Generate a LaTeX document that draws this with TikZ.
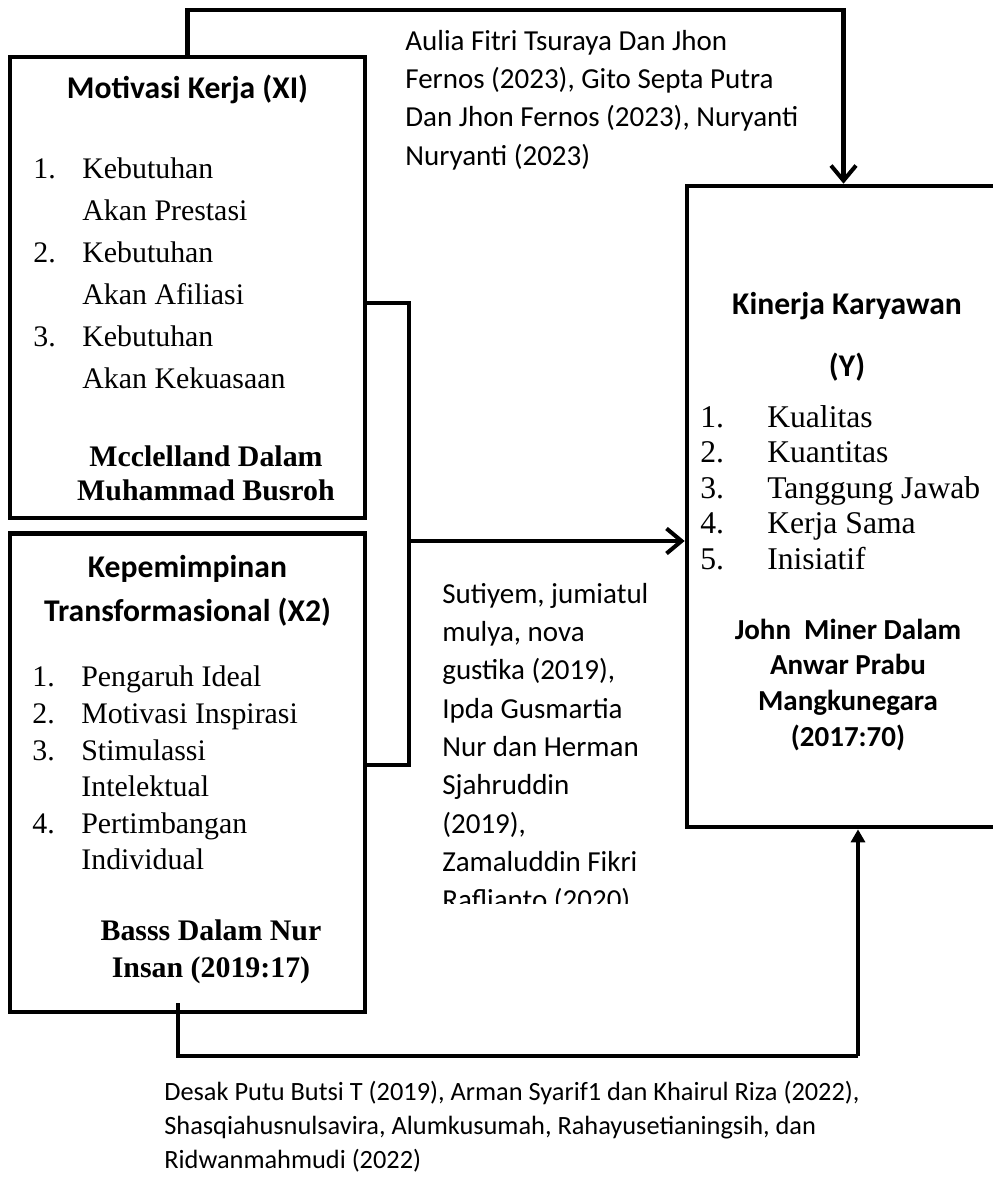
\documentclass[tikz,border=0pt]{standalone}
\usepackage{fontspec}
\setmainfont{Liberation Serif}
\setsansfont{Carlito}
\usetikzlibrary{arrows.meta,positioning,calc}
\tikzset{
  varbox/.style={draw=black, line width=2.7pt, inner sep=0pt, minimum width=7.1cm},
  titletext/.style={font=\sffamily\bfseries, inner sep=0pt},
  itemtext/.style={anchor=north west, inner sep=0pt},
  srctext/.style={anchor=north, inner sep=0pt},
  citetext/.style={font=\fontsize{16.5}{21.8}\selectfont\sffamily, anchor=north west, inner sep=0pt},
  link/.style={line width=2.3pt},
  linkArc/.style={link, -{Straight Barb[length=3mm, width=5mm]}},
  upArc/.style={line width=1.8pt, -{Triangle[length=2.6mm, width=2.8mm]}},
}

\begin{document}
\begin{tikzpicture}[x=0.02cm, y=-0.02cm]
    \useasboundingbox (0,0) rectangle (993,1179);
    \node[varbox, minimum height=9.22cm] (x1) at (187.5,287.5) {};
    \node[varbox, minimum height=9.58cm, below=2.1mm of x1] (x2) {};
    \node[varbox, minimum width=6.26cm, minimum height=12.82cm] (y) at (843.5,506.5) {};

    \node[titletext, font=\fontsize{18}{25}\selectfont\sffamily\bfseries, anchor=base] (x1title) at (187.5,99) {Motivasi Kerja (XI)};
    \node[itemtext, font=\fontsize{17}{23.9}\selectfont] (x1items) at (33,148.6) {\begin{tabular}{@{}p{27.9pt}@{}l@{}}
      1. & Kebutuhan\\ & Akan Prestasi\\
      2. & Kebutuhan\\ & Akan Afiliasi\\
      3. & Kebutuhan\\ & Akan Kekuasaan
    \end{tabular}};
    \node[srctext, font=\fontsize{17}{18.8}\selectfont\bfseries] (x1src) at (206,443.5) {\begin{tabular}{@{}c@{}}
      Mcclelland Dalam\\ Muhammad Busroh
    \end{tabular}};

    \node[titletext, font=\fontsize{18}{25}\selectfont\sffamily\bfseries, anchor=north] (x2title) at (187.5,546) {\begin{tabular}{@{}c@{}}
      Kepemimpinan\\ Transformasional (X2)
    \end{tabular}};
    \node[itemtext, font=\fontsize{17}{20.8}\selectfont] (x2items) at (32,661) {\begin{tabular}{@{}p{27.9pt}@{}l@{}}
      1. & Pengaruh Ideal\\
      2. & Motivasi Inspirasi\\
      3. & Stimulassi\\ & Intelektual\\
      4. & Pertimbangan\\ & Individual
    \end{tabular}};
    \node[srctext, font=\fontsize{17}{21.05}\selectfont\bfseries] (x2src) at (211,914.1) {\begin{tabular}{@{}c@{}}
      Basss Dalam Nur\\ Insan (2019:17)
    \end{tabular}};

    \node[titletext, font=\fontsize{18}{35.3}\selectfont\sffamily\bfseries, anchor=north] (ytitle) at (847,271) {\begin{tabular}{@{}c@{}}
      Kinerja Karyawan\\ (Y)
    \end{tabular}};
    \node[itemtext, font=\fontsize{18}{20.2}\selectfont] (yitems) at (700,402) {\begin{tabular}{@{}p{38.1pt}@{}l@{}}
      1. & Kualitas\\
      2. & Kuantitas\\
      3. & Tanggung Jawab\\
      4. & Kerja Sama\\
      5. & Inisiatif
    \end{tabular}};
    \node[srctext, font=\fontsize{16.5}{20.3}\selectfont\sffamily\bfseries] (ysrc) at (848,614) {\begin{tabular}{@{}c@{}}
      John\ \ Miner Dalam\\ Anwar Prabu\\ Mangkunegara\\ (2017:70)
    \end{tabular}};

    \node[citetext] (citetop) at (405,23.2) {\begin{tabular}{@{}l@{}}
      Aulia Fitri Tsuraya Dan Jhon\\
      Fernos (2023), Gito Septa Putra\\
      Dan Jhon Fernos (2023), Nuryanti\\
      Nuryanti (2023)
    \end{tabular}};
    \begin{scope}
      \clip (430,560) rectangle (680,903);
      \node[citetext] (citemid) at (442,576.2) {\begin{tabular}{@{}l@{}}
        Sutiyem, jumiatul\\ mulya, nova\\ gustika (2019),\\ Ipda Gusmartia\\
        Nur dan Herman\\ Sjahruddin\\ (2019),\\ Zamaluddin Fikri\\ Raflianto (2020)
      \end{tabular}};
    \end{scope}
    \node[citetext, font=\fontsize{15}{19.35}\selectfont\sffamily] (citebot) at (164,1076.2) {\begin{tabular}{@{}l@{}}
      Desak Putu Butsi T (2019), Arman Syarif1 dan Khairul Riza (2022),\\
      Shasqiahusnulsavira, Alumkusumah, Rahayusetianingsih, dan\\
      Ridwanmahmudi (2022)
    \end{tabular}};

    \coordinate (toprail) at (0,10);
    \coordinate (jtop) at (409,303);
    \coordinate (jmid) at (409,541);
    \coordinate (jbot) at (409,765);
    \coordinate (bstart) at (178,1003);
    \coordinate (bturn) at (858,1056);
    \draw[linkArc] (x1.north) -- (x1.north |- toprail) -- (y.north |- toprail) -- (y.north);
    \draw[link] (x1.east |- jtop) -- (jtop) -- (jbot) -- (x2.east |- jbot);
    \draw[linkArc] (jmid) -- (y.west |- jmid);
    \draw[link] (bstart) |- (bturn);
    \draw[upArc] (bturn) -- (bturn |- y.south);
  \end{tikzpicture}
\end{document}
